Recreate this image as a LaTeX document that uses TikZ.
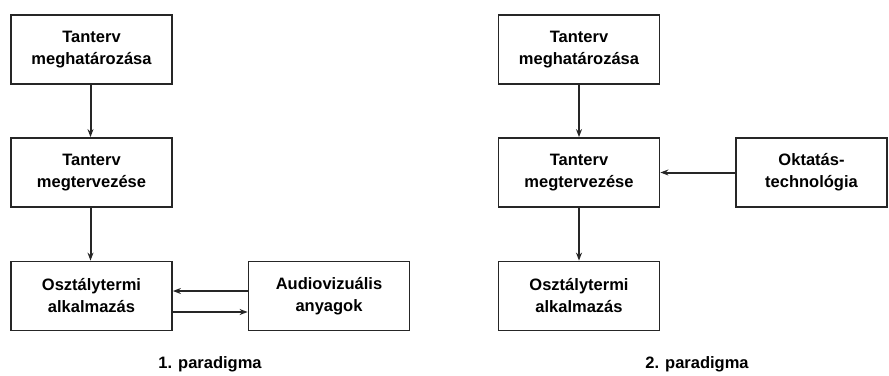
\documentclass[tikz,border=0pt]{standalone}
\usepackage{fontspec}
\setmainfont{Liberation Sans}
\usetikzlibrary{arrows.meta}
\begin{document}
\begin{tikzpicture}[x=1pt,y=-1pt,
  box/.style={draw=black!85, line width=1.8pt, minimum width=161pt, minimum height=69pt,
    align=center, inner sep=0pt, font=\fontsize{16.5}{22}\selectfont\bfseries},
  conn/.style={draw=black!85, line width=2pt, -{Stealth[length=8pt,width=6pt]}},
  captext/.style={font=\fontsize{16.5}{20}\selectfont\bfseries}]
\useasboundingbox (0,0) rectangle (889,375);
% paradigm 1
\node[box] (a1) at (91.5,49.5) {Tanterv\\meghatározása};
\node[box] (a2) at (91.5,172.5) {Tanterv\\megtervezése};
\node[box] (a3) at (91.5,296) {Osztálytermi\\alkalmazás};
\node[box] (av) at (329,296) {Audiovizuális\\anyagok};
\node[captext] (c1) at (210,364) {1. paradigma};
\draw[conn] ([xshift=-1pt]a1.south) -- ([xshift=-1pt]a2.north);
\draw[conn] ([xshift=-1pt]a2.south) -- ([xshift=-1pt]a3.north);
\draw[conn] ([yshift=5pt]av.west) -- ([yshift=5pt]a3.east);
\draw[conn] ([yshift=-16pt]a3.east) -- ([yshift=-16pt]av.west);
% paradigm 2
\node[box] (b1) at (579,49.5) {Tanterv\\meghatározása};
\node[box] (b2) at (579,172.5) {Tanterv\\megtervezése};
\node[box] (b3) at (579,296) {Osztálytermi\\alkalmazás};
\node[box, minimum width=151pt] (ok) at (811.5,172.5) {Oktatás-\\technológia};
\node[captext] (c2) at (697,364) {2. paradigma};
\draw[conn] (b1) -- (b2);
\draw[conn] (b2) -- (b3);
\draw[conn] (ok) -- (b2);
\end{tikzpicture}
\end{document}
